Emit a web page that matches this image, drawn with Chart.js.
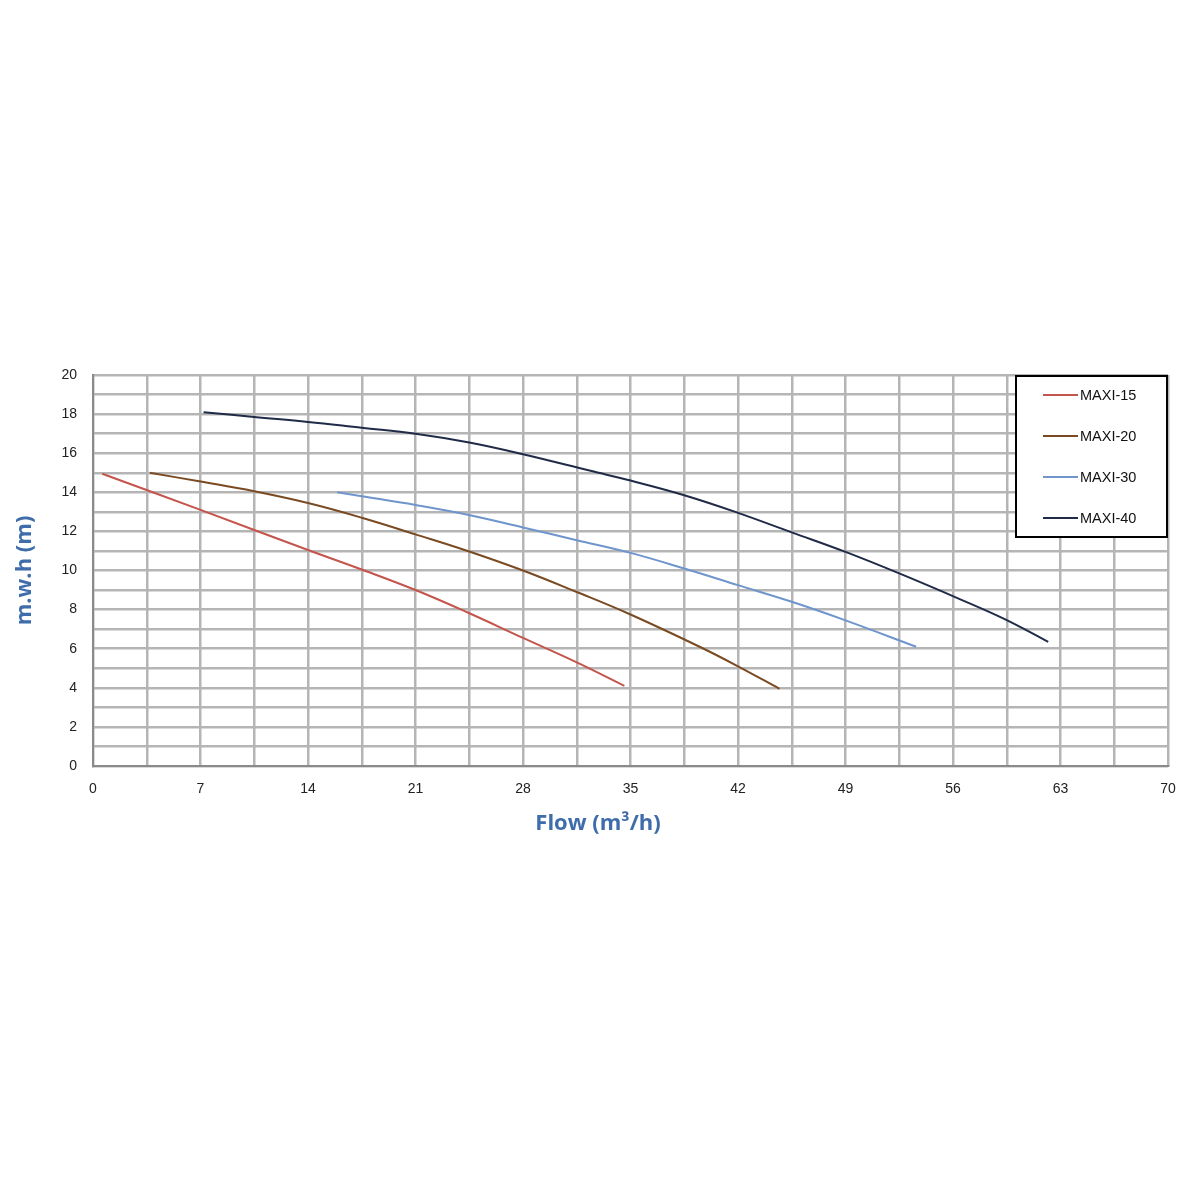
<!DOCTYPE html>
<html>
<head>
<meta charset="utf-8">
<title>MAXI pump curves</title>
<script src="https://cdn.jsdelivr.net/npm/chart.js@4.4.1/dist/chart.umd.min.js"></script>
<style>
  html, body { margin: 0; padding: 0; background: #fff; }
  #wrap { width: 1200px; height: 1197px; }
</style>
</head>
<body>
<div id="wrap"><canvas id="pumpChart" width="1200" height="1197"></canvas></div>
<script>
// Curve data: flow (m3/h) and head (m.w.h)
const seriesNames = ['MAXI-15', 'MAXI-20', 'MAXI-30', 'MAXI-40'];
const seriesColors = ['#c4554c', '#7a4a22', '#6f95cc', '#1f2b47'];

const flow15 = [0.6, 7, 14, 17.5, 21, 24.4, 28, 31.5, 34.6];
const head15 = [14.95, 13.1, 11.05, 10.05, 9.0, 7.85, 6.55, 5.3, 4.1];

const flow20 = [3.7, 7, 10.5, 14, 17.5, 21, 24.4, 28, 31.5, 35, 39.5, 42, 44.7];
const head20 = [15.0, 14.55, 14.05, 13.45, 12.7, 11.85, 11.0, 10.0, 8.9, 7.75, 6.1, 5.1, 3.95];

const flow30 = [15.9, 17.5, 21, 24.4, 28, 31.5, 35, 38.5, 42, 45.5, 49, 53.6];
const head30 = [14.0, 13.8, 13.35, 12.85, 12.2, 11.55, 10.9, 10.1, 9.25, 8.4, 7.45, 6.1];

const flow40 = [7.2, 10.5, 14, 17.5, 21, 24.5, 28, 32.4, 35, 38.5, 42, 45.5, 49, 52.5, 56.4, 59.4, 62.2];
const head40 = [18.1, 17.85, 17.6, 17.3, 17.0, 16.55, 15.95, 15.1, 14.6, 13.85, 12.95, 11.95, 10.95, 9.85, 8.55, 7.5, 6.35];

const xTickStep = 3.5;   // grid every 3.5, label every 7
const yTickStep = 1;     // grid every 1, label every 2
const xTitle = 'Flow (m³/h)';
const yTitle = 'm.w.h (m)';

const titleColor = '#3f6dab';
const titleFont = { family: '"Open Sans", sans-serif', size: 22, weight: 'bold' };
const tickFont = { family: '"Liberation Sans", Arial, sans-serif', size: 14 };

const toPoints = (xs, ys) => xs.map((x, i) => ({ x: x, y: ys[i] }));
const allFlows = [flow15, flow20, flow30, flow40];
const allHeads = [head15, head20, head30, head40];

const datasets = seriesNames.map((name, i) => ({
    label: name,
    data: toPoints(allFlows[i], allHeads[i]),
    borderColor: seriesColors[i],
    backgroundColor: seriesColors[i],
    borderWidth: 2,
    pointRadius: 0,
    fill: false,
    tension: 0.4
}));

// legend box inside the top-right corner, plus the x title (sits left of centre)
const extras = {
    id: 'extras',
    afterDraw(chart) {
        const ctx = chart.ctx;
        const area = chart.chartArea;
        const w = 153, h = 163;
        const left = area.right - w, top = area.top;
        ctx.save();
        ctx.fillStyle = '#fff';
        ctx.fillRect(left, top, w, h);
        ctx.strokeStyle = '#000';
        ctx.lineWidth = 2;
        ctx.strokeRect(left + 1, top + 1, w - 2, h - 2);
        ctx.font = '14.5px "Liberation Sans", Arial, sans-serif';
        ctx.textBaseline = 'middle';
        ctx.fillStyle = '#111';
        chart.data.datasets.forEach((ds, i) => {
            const y = top + 20 + i * 41;
            ctx.strokeStyle = ds.borderColor;
            ctx.lineWidth = 2;
            ctx.beginPath();
            ctx.moveTo(left + 28, y);
            ctx.lineTo(left + 63, y);
            ctx.stroke();
            ctx.fillText(ds.label, left + 65, y + 1);
        });

        ctx.font = 'bold 22px "Open Sans", sans-serif';
        ctx.fillStyle = titleColor;
        ctx.textAlign = 'center';
        ctx.textBaseline = 'middle';
        ctx.fillText(xTitle, 598, 824);
        ctx.restore();
    }
};

const ctx = document.getElementById('pumpChart').getContext('2d');
const pumpChart = new Chart(ctx, {
    type: 'line',
    data: { datasets: datasets },
    plugins: [extras],
    options: {
        responsive: false,
        animation: false,
        layout: { padding: { top: 375, right: 32, bottom: 357, left: 0 } },
        plugins: {
            legend: { display: false },
            tooltip: { enabled: false }
        },
        scales: {
            x: {
                type: 'linear',
                min: 0,
                max: 70,
                afterFit: (scale) => { scale.height = 74; },
                border: { color: '#8a8a8a', width: 2 },
                grid: { color: '#b5b5b5', lineWidth: 2.5, drawTicks: false },
                ticks: {
                    stepSize: xTickStep,
                    autoSkip: false,
                    maxRotation: 0,
                    padding: 15,
                    color: '#222',
                    font: tickFont,
                    callback: (v) => (v % 7 === 0 ? v : '')
                }
            },
            y: {
                min: 0,
                max: 20,
                afterFit: (scale) => { scale.width = 93; },
                border: { color: '#8a8a8a', width: 2 },
                grid: { color: '#b5b5b5', lineWidth: 2.5, drawTicks: false },
                ticks: {
                    stepSize: yTickStep,
                    autoSkip: false,
                    padding: 16,
                    color: '#222',
                    font: tickFont,
                    callback: (v) => (v % 2 === 0 ? v : '')
                },
                title: {
                    display: true,
                    text: yTitle,
                    color: titleColor,
                    font: titleFont,
                    padding: { top: 12, bottom: 0 }
                }
            }
        }
    }
});
</script>
</body>
</html>
